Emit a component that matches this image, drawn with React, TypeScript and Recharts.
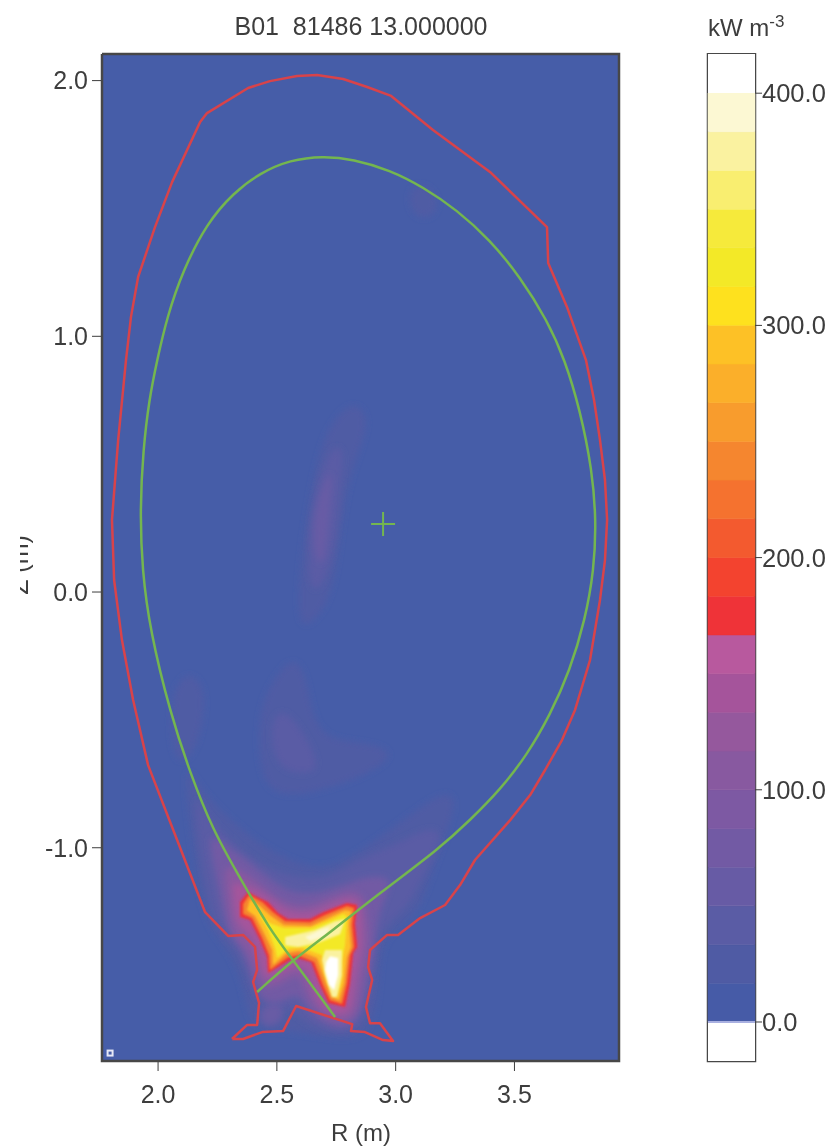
import { Bar, BarChart, CartesianGrid, ReferenceArea, ReferenceLine, Scatter, ScatterChart, XAxis, YAxis } from 'recharts';

type Pair = [number, number];

const R_TICKS = [2.0, 2.5, 3.0, 3.5];
const Z_TICKS = [-1.0, 0.0, 1.0, 2.0];
const BAR_TICKS = [0, 100, 200, 300, 400];

// first wall, separatrix: [R, Z] in metres
const WALL: Pair[] = [
  [2.311, -1.748], [2.358, -1.748], [2.438, -1.721], [2.526, -1.717], [2.581, -1.619], [2.817, -1.69], [2.812, -1.717],
  [2.871, -1.721], [2.947, -1.752], [2.989, -1.756], [2.934, -1.686], [2.892, -1.686], [2.875, -1.623], [2.901, -1.517],
  [2.884, -1.467], [2.892, -1.4], [2.964, -1.341], [3.01, -1.341], [3.103, -1.275], [3.208, -1.224], [3.271, -1.146],
  [3.334, -1.048], [3.482, -0.892], [3.566, -0.794], [3.629, -0.696], [3.7, -0.579], [3.755, -0.461], [3.818, -0.266],
  [3.86, -0.031], [3.881, 0.125], [3.89, 0.282], [3.881, 0.438], [3.86, 0.594], [3.835, 0.751], [3.801, 0.907],
  [3.721, 1.115], [3.642, 1.287], [3.637, 1.427], [3.397, 1.643], [3.157, 1.807], [2.981, 1.94], [2.88, 1.975],
  [2.779, 2.006], [2.669, 2.022], [2.585, 2.018], [2.471, 1.998], [2.379, 1.971], [2.206, 1.873], [2.177, 1.838],
  [2.059, 1.603], [1.987, 1.427], [1.916, 1.232], [1.886, 1.076], [1.865, 0.907], [1.832, 0.594], [1.806, 0.282],
  [1.815, 0.047], [1.848, -0.188], [1.895, -0.422], [1.958, -0.677], [2.072, -0.95], [2.198, -1.252], [2.295, -1.345],
  [2.358, -1.341], [2.408, -1.388], [2.417, -1.478], [2.4, -1.525], [2.425, -1.607], [2.417, -1.693], [2.375, -1.693],
  [2.311, -1.748],
];
const SEPARATRIX: Pair[] = [
  [2.417, -1.564], [2.568, -1.439], [2.737, -1.322], [2.922, -1.185], [3.187, -1.001], [3.313, -0.892], [3.439, -0.774],
  [3.553, -0.637], [3.65, -0.481], [3.734, -0.305], [3.797, -0.11], [3.835, 0.086], [3.844, 0.282], [3.827, 0.477],
  [3.776, 0.712], [3.713, 0.907], [3.637, 1.064], [3.524, 1.232], [3.397, 1.377], [3.258, 1.494], [3.115, 1.584],
  [2.976, 1.65], [2.821, 1.693], [2.694, 1.705], [2.556, 1.69], [2.429, 1.639], [2.316, 1.56], [2.206, 1.443],
  [2.105, 1.259], [2.038, 1.076], [1.996, 0.907], [1.962, 0.751], [1.937, 0.555], [1.924, 0.321], [1.933, 0.086],
  [1.966, -0.149], [2.051, -0.473], [2.135, -0.708], [2.231, -0.931], [2.333, -1.099], [2.471, -1.322], [2.568, -1.439],
  [2.745, -1.662],
];
const AXIS_CROSS: Pair[] = [[2.947, 0.266]];
const CORNER_MARK: Pair[] = [[1.798, -1.803]];
const FRAME: Pair[] = [[1.764, 2.104], [3.94, 2.104], [3.94, -1.834], [1.764, -1.834], [1.764, 2.104]];

// radiation contours, outermost first
const BLOB_TOP: Pair[] = [[3.061, 1.576], [3.111, 1.6], [3.17, 1.557], [3.178, 1.498], [3.136, 1.459], [3.082, 1.47], [3.057, 1.517]];
const BLOB_LEFT: Pair[] = [[2.135, -0.317], [2.198, -0.372], [2.189, -0.512], [2.147, -0.645], [2.063, -0.684], [2.051, -0.422], [2.093, -0.344]];
const CRESCENT_1: Pair[] = [
  [2.821, 0.739], [2.88, 0.7], [2.871, 0.606], [2.787, 0.411], [2.753, 0.098], [2.711, -0.059], [2.61, -0.156],
  [2.589, -0.059], [2.606, 0.153], [2.64, 0.372], [2.694, 0.606], [2.766, 0.7],
];
const CRESCENT_2: Pair[] = [[2.787, 0.567], [2.766, 0.426], [2.753, 0.203], [2.694, 0.02], [2.648, 0], [2.627, 0.098], [2.648, 0.36], [2.724, 0.575]];
const CRESCENT_3: Pair[] = [[2.737, 0.489], [2.724, 0.332], [2.703, 0.098], [2.661, 0.117], [2.648, 0.27], [2.694, 0.426]];
const LOWER_1: Pair[] = [
  [2.568, -0.266], [2.619, -0.305], [2.648, -0.489], [2.711, -0.579], [2.892, -0.591], [3.006, -0.63], [2.892, -0.708],
  [2.724, -0.767], [2.535, -0.806], [2.429, -0.747], [2.421, -0.501], [2.459, -0.383], [2.526, -0.293],
];
const LOWER_2: Pair[] = [[2.547, -0.454], [2.703, -0.688], [2.61, -0.716], [2.501, -0.688], [2.471, -0.551], [2.492, -0.481]];
const HALO_1: Pair[] = [
  [2.114, -0.657], [2.177, -0.774], [2.303, -0.892], [2.45, -1.001], [2.598, -1.068], [2.724, -1.087], [2.892, -0.989],
  [3.061, -0.872], [3.208, -0.774], [3.271, -0.813], [3.145, -1.107], [3.103, -1.244], [2.998, -1.322], [2.934, -1.381],
  [2.926, -1.596], [2.884, -1.733], [2.766, -1.752], [2.556, -1.713], [2.387, -1.713], [2.366, -1.557], [2.303, -1.4],
  [2.198, -1.302], [2.156, -1.048], [2.126, -0.853],
];
const HALO_2: Pair[] = [
  [2.156, -0.774], [2.198, -0.872], [2.324, -0.989], [2.45, -1.079], [2.598, -1.126], [2.724, -1.119], [2.85, -1.04],
  [3.019, -0.98], [3.145, -0.915], [3.208, -0.95], [3.103, -1.126], [3.061, -1.224], [2.955, -1.302], [2.913, -1.4],
  [2.901, -1.557], [2.859, -1.713], [2.745, -1.733], [2.598, -1.674], [2.556, -1.615], [2.438, -1.627], [2.387, -1.537],
  [2.345, -1.4], [2.24, -1.322], [2.198, -1.126], [2.164, -0.931],
];
const HALO_4: Pair[] = [
  [2.198, -0.923], [2.282, -0.989], [2.387, -1.056], [2.471, -1.126], [2.577, -1.185], [2.703, -1.173], [2.808, -1.134],
  [2.913, -1.107], [2.998, -1.126], [2.926, -1.244], [2.913, -1.381], [2.884, -1.537], [2.842, -1.693], [2.745, -1.713],
  [2.64, -1.654], [2.589, -1.557], [2.513, -1.615], [2.421, -1.596], [2.387, -1.478], [2.345, -1.381], [2.282, -1.322],
  [2.253, -1.146],
];
const HALO_6: Pair[] = [
  [2.269, -1.056], [2.345, -1.087], [2.408, -1.126], [2.48, -1.185], [2.556, -1.224], [2.64, -1.232], [2.766, -1.173],
  [2.871, -1.165], [2.884, -1.302], [2.892, -1.4], [2.859, -1.498], [2.85, -1.607], [2.817, -1.682], [2.732, -1.682],
  [2.648, -1.627], [2.61, -1.537], [2.589, -1.486], [2.513, -1.537], [2.438, -1.557], [2.408, -1.459], [2.366, -1.381],
  [2.311, -1.341], [2.295, -1.224],
];
const HALO_8: Pair[] = [
  [2.311, -1.126], [2.345, -1.146], [2.396, -1.158], [2.438, -1.177], [2.492, -1.216], [2.543, -1.252], [2.64, -1.259],
  [2.703, -1.232], [2.787, -1.197], [2.85, -1.201], [2.854, -1.302], [2.859, -1.392], [2.833, -1.478], [2.821, -1.596],
  [2.804, -1.654], [2.724, -1.654], [2.673, -1.607], [2.64, -1.517], [2.619, -1.459], [2.556, -1.467], [2.471, -1.517],
  [2.438, -1.498], [2.429, -1.42], [2.387, -1.33], [2.328, -1.302], [2.32, -1.205],
];
const HOT_RED: Pair[] = [
  [2.379, -1.173], [2.417, -1.193], [2.463, -1.212], [2.505, -1.255], [2.547, -1.279], [2.64, -1.279], [2.694, -1.252],
  [2.795, -1.216], [2.838, -1.224], [2.829, -1.295], [2.838, -1.388], [2.821, -1.412], [2.808, -1.529], [2.787, -1.623],
  [2.716, -1.607], [2.682, -1.537], [2.644, -1.447], [2.585, -1.431], [2.556, -1.439], [2.463, -1.49], [2.459, -1.428],
  [2.429, -1.361], [2.387, -1.283], [2.345, -1.271], [2.345, -1.212],
];
const HOT_ORANGE: Pair[] = [
  [2.383, -1.185], [2.438, -1.212], [2.484, -1.252], [2.535, -1.287], [2.64, -1.291], [2.703, -1.263], [2.795, -1.228],
  [2.825, -1.236], [2.817, -1.302], [2.825, -1.388], [2.808, -1.42], [2.795, -1.529], [2.774, -1.611], [2.724, -1.596],
  [2.694, -1.537], [2.657, -1.447], [2.589, -1.42], [2.547, -1.428], [2.471, -1.478], [2.467, -1.42], [2.438, -1.353],
  [2.396, -1.275], [2.358, -1.259], [2.358, -1.22],
];
const HOT_GOLD: Pair[] = [
  [2.387, -1.201], [2.429, -1.228], [2.475, -1.267], [2.53, -1.302], [2.644, -1.306], [2.707, -1.279], [2.787, -1.244],
  [2.812, -1.248], [2.804, -1.302], [2.812, -1.388], [2.795, -1.428], [2.783, -1.529], [2.762, -1.596], [2.732, -1.584],
  [2.707, -1.529], [2.669, -1.431], [2.593, -1.404], [2.543, -1.412], [2.484, -1.459], [2.48, -1.4], [2.45, -1.341],
  [2.408, -1.267], [2.374, -1.244],
];
const HOT_YELLOW: Pair[] = [
  [2.421, -1.252], [2.471, -1.295], [2.53, -1.314], [2.644, -1.314], [2.716, -1.287], [2.779, -1.259], [2.795, -1.267],
  [2.787, -1.381], [2.774, -1.439], [2.766, -1.537], [2.749, -1.58], [2.728, -1.537], [2.69, -1.42], [2.598, -1.388],
  [2.547, -1.396], [2.501, -1.431], [2.492, -1.392], [2.463, -1.322],
];
const PALE_BAND: Pair[] = [[2.535, -1.349], [2.661, -1.322], [2.745, -1.287], [2.787, -1.279], [2.766, -1.338], [2.673, -1.373], [2.589, -1.388], [2.535, -1.381]];
const BAND_CORE: Pair[] = [[2.619, -1.349], [2.682, -1.322], [2.724, -1.31], [2.703, -1.345], [2.64, -1.365]];
const PALE_LOBE: Pair[] = [[2.703, -1.4], [2.774, -1.4], [2.774, -1.498], [2.753, -1.584], [2.732, -1.584], [2.703, -1.498], [2.69, -1.439]];
const WHITE_CORE: Pair[] = [[2.724, -1.424], [2.758, -1.431], [2.758, -1.498], [2.741, -1.557], [2.72, -1.537], [2.703, -1.478], [2.707, -1.447]];
const WALL_PATCH: Pair[] = [[2.421, -1.615], [2.535, -1.596], [2.526, -1.693], [2.429, -1.705]];

// colour bar, bottom to top, one band per 16.67 kW m-3
const BAND_COLORS = [
  '#465ba7', '#4f5ba4', '#5a5ca5', '#675ba5', '#725aa4', '#7d59a3', '#8859a0', '#95589d', '#a5549b', '#b8599e',
  '#ef3338', '#f3432f', '#f35a2f', '#f5722f', '#f5862f', '#f89c2d', '#fbaf2a', '#fdc126',
  '#fee11e', '#f3e927', '#f6ea3b', '#f9ee70', '#faf2a0', '#fcf8d3',
];
const BAND_VALUE = 16.67;

const HAZE_LAYERS: [Pair[], number][] = [
  [BLOB_TOP, 1], [BLOB_LEFT, 1], [CRESCENT_1, 1], [CRESCENT_2, 2], [CRESCENT_3, 3], [LOWER_1, 1], [LOWER_2, 2],
  [HALO_1, 1], [HALO_2, 2], [WALL_PATCH, 3], [HALO_4, 4], [HALO_6, 6], [HALO_8, 8],
];
const HOT_LAYERS: [Pair[], number | string][] = [
  [HOT_RED, 10], [HOT_ORANGE, 14], [HOT_GOLD, 17], [HOT_YELLOW, 19], [PALE_BAND, 22], [BAND_CORE, 23], [PALE_LOBE, 22], [WHITE_CORE, '#ffffff'],
];

const INK = '#3d3d3d';
const FONT = '"Liberation Sans", Arial, sans-serif';
const toPoints = (pairs: Pair[]) => pairs.map(([r, z]) => ({ r, z }));
const noDot = () => null;

const barRow: Record<string, number | string> = { name: 'bar', under: -16.8, over: 16.8 };
BAND_COLORS.forEach((_, i) => {
  barRow[`band${i}`] = BAND_VALUE;
});

function Cross({ cx, cy }: { cx?: number; cy?: number }) {
  return (
    <g stroke="#74b64f" strokeWidth={2}>
      <line x1={cx! - 12} x2={cx! + 12} y1={cy} y2={cy} />
      <line x1={cx} x2={cx} y1={cy! - 12} y2={cy! + 12} />
    </g>
  );
}

function CornerMark({ cx, cy }: { cx?: number; cy?: number }) {
  return <rect x={cx! - 2.5} y={cy! - 2.5} width={5} height={5} fill="#465da8" stroke="#e6e8f6" strokeWidth={2} />;
}

export default function App() {
  return (
    <div style={{ position: 'absolute', left: 0, top: 0, width: 835, height: 1146, background: '#fff', overflow: 'hidden', filter: 'blur(0.5px)' }}>
      <div style={{ position: 'absolute', left: 0, top: 0 }}>
        <ScatterChart width={835} height={1146} margin={{ top: 54, right: 216, bottom: 45, left: 42 }}>
          <defs>
            <filter id="haze" x="-40%" y="-40%" width="180%" height="180%">
              <feGaussianBlur stdDeviation={3} />
            </filter>
            <filter id="hot" x="-20%" y="-20%" width="140%" height="140%">
              <feGaussianBlur stdDeviation={1.1} />
            </filter>
          </defs>
          <CartesianGrid horizontal={false} vertical={false} fill="#465da8" />
          <XAxis
            type="number"
            dataKey="r"
            domain={[1.764, 3.94]}
            ticks={R_TICKS}
            tickFormatter={(v: number) => v.toFixed(1)}
            height={40}
            tickSize={10}
            tickMargin={14}
            axisLine={false}
            stroke={INK}
            tick={{ fill: INK, fontSize: 25, fontFamily: FONT }}
          />
          <YAxis
            type="number"
            dataKey="z"
            domain={[-1.834, 2.104]}
            ticks={Z_TICKS}
            tickFormatter={(v: number) => v.toFixed(1)}
            width={60}
            tickSize={10}
            tickMargin={4}
            axisLine={false}
            stroke={INK}
            tick={{ fill: INK, fontSize: 25, fontFamily: FONT }}
          />
          {HAZE_LAYERS.map(([pairs, level], i) => (
            <Scatter
              key={`haze${i}`}
              data={toPoints(pairs)}
              shape={noDot}
              line={{ fill: BAND_COLORS[level], stroke: 'none', filter: 'url(#haze)' }}
              lineJointType="basisClosed"
              isAnimationActive={false}
            />
          ))}
          {HOT_LAYERS.map(([pairs, level], i) => (
            <Scatter
              key={`hot${i}`}
              data={toPoints(pairs)}
              shape={noDot}
              line={{ fill: typeof level === 'number' ? BAND_COLORS[level] : level, stroke: 'none', filter: 'url(#hot)' }}
              lineJointType="linearClosed"
              isAnimationActive={false}
            />
          ))}
          <Scatter data={toPoints(WALL)} shape={noDot} line={{ stroke: '#d8434a', strokeWidth: 2.5, strokeLinejoin: 'round' }} isAnimationActive={false} />
          <Scatter data={toPoints(SEPARATRIX)} shape={noDot} lineJointType="basis" line={{ stroke: '#74b64f', strokeWidth: 2.5 }} isAnimationActive={false} />
          <Scatter data={toPoints(AXIS_CROSS)} shape={<Cross />} isAnimationActive={false} />
          <Scatter data={toPoints(CORNER_MARK)} shape={<CornerMark />} isAnimationActive={false} />
          <Scatter data={toPoints(FRAME)} shape={noDot} line={{ stroke: '#474747', strokeWidth: 2.5 }} isAnimationActive={false} />
          <text x={361} y={35} textAnchor="middle" fontSize={25} fontFamily={FONT} fill={INK} xmlSpace="preserve">
            B01  81486 13.000000
          </text>
          <text x={361} y={1141} textAnchor="middle" fontSize={24} fontFamily={FONT} fill={INK}>
            R (m)
          </text>
          <text transform="translate(28,565) rotate(-90)" textAnchor="middle" fontSize={25} fontFamily={FONT} fill={INK}>
            Z (m)
          </text>
        </ScatterChart>
      </div>
      {/* the z label is cut off in the source figure */}
      <div style={{ position: 'absolute', left: 0, top: 0, width: 20, height: 1146, background: '#fff' }} />
      <div style={{ position: 'absolute', left: 690, top: 0 }}>
        <BarChart
          width={145}
          height={1146}
          data={[barRow]}
          stackOffset="sign"
          barCategoryGap={0}
          margin={{ top: 54, right: 0, bottom: 85, left: 18 }}
        >
          <XAxis dataKey="name" hide />
          <YAxis
            orientation="right"
            type="number"
            domain={[-16.8, 416.8]}
            ticks={BAR_TICKS}
            tickFormatter={(v: number) => v.toFixed(1)}
            width={80}
            tickSize={7}
            tickMargin={0}
            axisLine={false}
            stroke={INK}
            tick={{ fill: INK, fontSize: 25.5, fontFamily: FONT, textAnchor: 'start' }}
          />
          <Bar dataKey="under" stackId="bar" fill="#ffffff" isAnimationActive={false} />
          {BAND_COLORS.map((color, i) => (
            <Bar key={color} dataKey={`band${i}`} stackId="bar" fill={color} stroke={color} strokeWidth={0.6} isAnimationActive={false} />
          ))}
          <Bar dataKey="over" stackId="bar" fill="#ffffff" isAnimationActive={false} />
          <ReferenceLine y={0} stroke="#a9b0e0" strokeWidth={2} />
          <ReferenceArea y1={-16.8} y2={416.8} fill="none" stroke="#474747" strokeWidth={2.5} />
          <text x={18} y={36} fontSize={24} fontFamily={FONT} fill={INK}>
            kW m<tspan dy={-9} fontSize={17}>-3</tspan>
          </text>
        </BarChart>
      </div>
    </div>
  );
}
